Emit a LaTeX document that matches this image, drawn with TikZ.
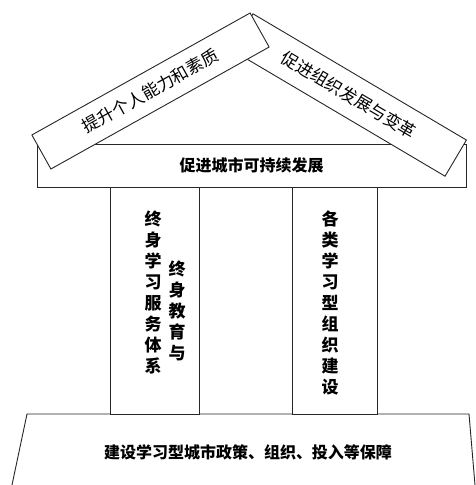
\documentclass[tikz,border=0pt]{standalone}
\usepackage{fontspec}
\usepackage{tikz}
\usetikzlibrary{positioning}
\newfontfamily\cjk{Noto Sans CJK SC}
\colorlet{trait}{black!85}

\begin{document}
\begin{tikzpicture}[x=1pt,y=-1pt]%
        \useasboundingbox (0,0) rectangle (476,485);%%
        % socle
        \draw[line width=.9pt,trait] (12,485)--(27,414)--(469,414)--(475,485); %%
        \node[font=\cjk\bfseries\fontsize{16}{20}\selectfont] (base) at (248,452) {建设学习型城市政策、组织、投入等保障}; %%
        \begin{scope}[shape=rectangle,inner sep=0pt]
        \tikzstyle{every node}=[draw=trait,line width=.9pt,fill=white,font=\cjk\bfseries\fontsize{16}{20}\selectfont] %%
        \node[minimum width=429,minimum height=43] (band) at (251.5,165.5) {促进城市可持续发展}; %%
        \node[minimum width=89,minimum height=227] (pil1) at (154.5,300.5) {}; %%
        \node[minimum width=85,minimum height=227] (pil2) at (334.5,300.5) {}; %%
        \end{scope}
        % toit
        \begin{scope}[shape=rectangle,inner sep=0pt]
        \tikzstyle{every node}=[draw=trait,line width=.9pt,fill=white,font=\cjk\fontsize{17}{20}\selectfont] %%
        \node[minimum width=248,minimum height=42,rotate=-30.6] (roofr) at (349,95) {促进组织发展与变革}; %%
        \node[minimum width=250,minimum height=39,rotate=29.2] (roofl) at (150.5,91) {提升个人能力和素质}; %%
        \end{scope}
        % colonnes
        \begin{scope}[inner sep=0pt]
        \tikzstyle{every node}=[align=center,font=\cjk\bfseries\fontsize{17}{21}\selectfont] %%
        \node (lsys) at (153,292.5) {终\\身\\学\\习\\服\\务\\体\\系}; %%
        \node (ledu) at (177,311) {终\\身\\教\\育\\与}; %%
        \node (orgs) at (330,302.5) {各\\类\\学\\习\\型\\组\\织\\建\\设}; %%
        \end{scope}
\end{tikzpicture}
\end{document}
